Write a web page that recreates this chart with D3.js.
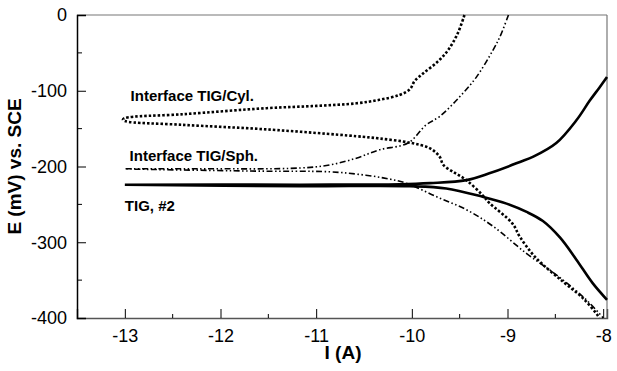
<!DOCTYPE html>
<html>
<head>
<meta charset="utf-8">
<style>
    body { margin: 0; background: #fff; }
    svg { display: block; font-family: "Liberation Sans", Arial, sans-serif; }
    .tick-label { font-size: 18px; fill: #000; }
    .axis-title { font-size: 19px; font-weight: bold; }
    .series-label { font-size: 15px; font-weight: bold; }
</style>
</head>
<body>
<svg width="617" height="371"></svg>
<script src="https://d3js.org/d3.v7.min.js"></script>
<script>
    // I (A), log scale values, and E (mV) vs SCE
    let cylAnodic = [[-13.02, -138], [-13, -136], [-12.39, -131], [-11.52, -123], [-11.0, -120], [-10.58, -116.6], [-10.34, -112],
        [-10.13, -105.6], [-10.02, -98], [-9.97, -87], [-9.88, -77], [-9.73, -61.6], [-9.62, -46.2],
        [-9.52, -24.2], [-9.45, 0]];
    let cylCathodic = [[-13, -140], [-12.39, -145], [-11.52, -151], [-10.58, -160], [-10.34, -163], [-10.02, -168.6],
        [-9.81, -176], [-9.71, -187], [-9.67, -198], [-9.57, -207], [-9.43, -218], [-9.26, -238], [-9.19, -248],
        [-8.95, -275], [-8.87, -293], [-8.70, -321], [-8.42, -352], [-8.21, -374], [-8.06, -396], [-8.04, -400]];

    let sphAnodic = [[-13, -203], [-12.22, -203], [-11.17, -202], [-10.86, -198], [-10.58, -189], [-10.34, -178],
        [-10.04, -169], [-9.85, -145], [-9.71, -134], [-9.50, -108], [-9.32, -81], [-9.15, -46], [-9.08, -29], [-8.99, 0]];
    let sphCathodic = [[-13, -205], [-11.69, -206], [-10.86, -207], [-10.58, -210], [-10.30, -215], [-10.06, -222],
        [-9.74, -240], [-9.43, -257], [-9.15, -279], [-8.80, -315], [-8.49, -343], [-8.21, -372], [-8.04, -394], [-8.0, -400]];

    let tigAnodic = [[-13, -224], [-11.17, -224], [-10.13, -223.5], [-9.81, -222], [-9.43, -218], [-9.19, -209],
        [-8.87, -194], [-8.73, -187], [-8.49, -169], [-8.28, -139], [-8.14, -113], [-8.04, -96], [-7.96, -82]];
    let tigCathodic = [[-13, -225], [-11.17, -226], [-10.02, -226], [-9.64, -229], [-9.26, -240], [-9.01, -249],
        [-8.80, -260], [-8.63, -272], [-8.45, -294], [-8.28, -323], [-8.11, -354], [-7.96, -376]];

    let xTicks = [-13, -12, -11, -10, -9, -8];
    let xMinor = [-12.5, -11.5, -9.5, -8.5];
    let yTicks = [0, -100, -200, -300, -400];
    let yMinor = [-50, -150, -250, -350];

    let labels = [
        {text: "Interface TIG/Cyl.", x: -12.94, y: -114},
        {text: "Interface TIG/Sph.", x: -12.95, y: -193},
        {text: "TIG, #2", x: -13, y: -259}
    ];

    let svg = d3.select("svg");
    let mLeft = 77, mRight = 607, mTop = 15, mBottom = 318;

    let x = d3.scaleLinear().domain([-13.5, -7.96]).range([mLeft, mRight]);
    let y = d3.scaleLinear().domain([-400, 0]).range([mBottom, mTop]);

    // frame: top and right lighter, left and bottom are the real axes
    svg.append("line").attr("x1", mLeft).attr("x2", mRight).attr("y1", mTop).attr("y2", mTop)
        .attr("stroke", "#777").attr("stroke-width", 1.2);
    svg.append("line").attr("x1", mRight).attr("x2", mRight).attr("y1", mTop).attr("y2", mBottom)
        .attr("stroke", "#777").attr("stroke-width", 1.2);

    let xAxis = svg.append("g").attr("transform", "translate(0," + mBottom + ")")
        .call(d3.axisBottom(x).tickValues(xTicks).tickSize(-9).tickPadding(11).tickFormat(d => String(d)));
    xAxis.select(".domain").attr("stroke", "#555").attr("stroke-width", 1.5);
    xAxis.selectAll("text").attr("class", "tick-label").attr("font-family", null).attr("font-size", null);
    xAxis.append("g").selectAll("line").data(xMinor).join("line")
        .attr("x1", d => x(d)).attr("x2", d => x(d)).attr("y1", 0).attr("y2", -4)
        .attr("stroke", "#000");

    let yAxis = svg.append("g").attr("transform", "translate(" + mLeft + ",0)")
        .call(d3.axisLeft(y).tickValues(yTicks).tickSize(-9).tickPadding(10).tickFormat(d => String(d)));
    yAxis.select(".domain").attr("stroke", "#000").attr("stroke-width", 1.5);
    yAxis.selectAll("text").attr("class", "tick-label").attr("font-family", null).attr("font-size", null);
    yAxis.append("g").selectAll("line").data(yMinor).join("line")
        .attr("y1", d => y(d)).attr("y2", d => y(d)).attr("x1", 0).attr("x2", 5)
        .attr("stroke", "#000");

    svg.append("text").attr("class", "axis-title")
        .attr("x", 343).attr("y", 359)
        .attr("text-anchor", "middle").text("I (A)");
    svg.append("text").attr("class", "axis-title")
        .attr("transform", "translate(21," + (mTop + mBottom) / 2 + ") rotate(-90)")
        .attr("text-anchor", "middle").text("E (mV) vs. SCE");

    let lineY = d3.line().x(d => x(d[0])).y(d => y(d[1])).curve(d3.curveCatmullRom);

    let plot = svg.append("g");
    // Cyl: heavy dotted loop
    plot.append("path").datum(cylAnodic.slice().reverse().concat(cylCathodic))
        .attr("d", lineY).attr("fill", "none").attr("stroke", "#000")
        .attr("stroke-width", 2.6).attr("stroke-dasharray", "2.5,2");
    // Sph: thin dash-dot-dot
    plot.append("path").datum(sphAnodic.slice().reverse().concat(sphCathodic.slice(1)))
        .attr("d", lineY).attr("fill", "none").attr("stroke", "#000")
        .attr("stroke-width", 1.6).attr("stroke-dasharray", "6,2.5,1.5,2.5,1.5,2.5");
    // TIG #2: solid
    plot.append("path").datum(tigAnodic.slice().reverse().concat(tigCathodic.slice(1)))
        .attr("d", lineY).attr("fill", "none").attr("stroke", "#000")
        .attr("stroke-width", 2.6);

    svg.append("g").selectAll("text").data(labels).join("text")
        .attr("class", "series-label")
        .attr("x", d => x(d.x)).attr("y", d => y(d.y))
        .text(d => d.text);
</script>
</body>
</html>
